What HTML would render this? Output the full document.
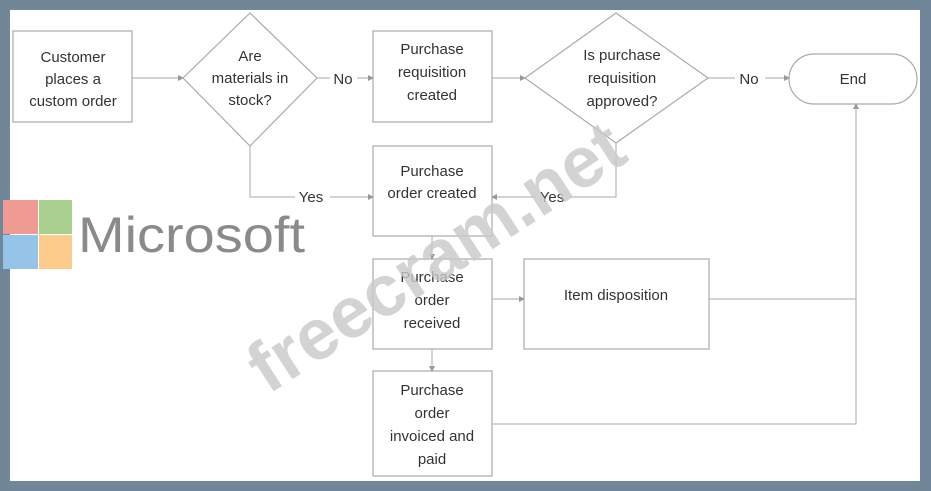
<!DOCTYPE html>
<html><head><style>
body{margin:0;width:931px;height:491px;background:#72869a;overflow:hidden;position:relative;font-family:"Liberation Sans",sans-serif}
#in{position:absolute;left:10px;top:10px;width:910px;height:471px;background:#fff}
</style></head><body>
<div id="in"></div>
<svg width="931" height="491" style="position:absolute;left:0;top:0" font-family="Liberation Sans, sans-serif" font-size="15" fill="#333">
<defs><marker id="a" markerWidth="6" markerHeight="6" refX="5" refY="3" orient="auto"><path d="M0,0L6,3L0,6z" fill="#999"/></marker></defs>
<g stroke="#aaa" stroke-width="1.2" fill="none">
<rect x="13" y="31" width="119" height="91" fill="#fff"/>
<polygon points="250,13 317,78 250,146 183,78" fill="#fff"/>
<rect x="373" y="31" width="119" height="91"/>
<polygon points="616,13 708,78 616,143 525,78"/>
<rect x="789" y="54" width="128" height="50" rx="25"/>
<rect x="373" y="146" width="119" height="90"/>
<rect x="373" y="259" width="119" height="90"/>
<rect x="524" y="259" width="185" height="90"/>
<rect x="373" y="371" width="119" height="105"/>
</g>
<g stroke="#aaa" stroke-width="1" fill="none">
<path d="M132,78H183" marker-end="url(#a)"/>
<path d="M317,78H330M357,78H373" marker-end="url(#a)"/>
<path d="M492,78H525" marker-end="url(#a)"/>
<path d="M708,78H735M765,78H789" marker-end="url(#a)"/>
<path d="M250,146V197H295M330,197H373" marker-end="url(#a)"/>
<path d="M616,143V197H570M535,197H492" marker-end="url(#a)"/>
<path d="M432,236V259" marker-end="url(#a)"/>
<path d="M432,349V371" marker-end="url(#a)"/>
<path d="M492,299H524" marker-end="url(#a)"/>
<path d="M709,299H856M492,424H856V104" marker-end="url(#a)"/>
</g>
<g text-anchor="middle">
<text x="73" y="62">Customer</text><text x="73" y="84">places a</text><text x="73" y="106">custom order</text>
<text x="250" y="61">Are</text><text x="250" y="83">materials in</text><text x="250" y="105">stock?</text>
<text x="343" y="84">No</text>
<text x="432" y="54">Purchase</text><text x="432" y="77">requisition</text><text x="432" y="100">created</text>
<text x="622" y="60">Is purchase</text><text x="622" y="83">requisition</text><text x="622" y="106">approved?</text>
<text x="749" y="84">No</text>
<text x="853" y="84">End</text>
<text x="311" y="202">Yes</text><text x="552" y="202">Yes</text>
<text x="432" y="176">Purchase</text><text x="432" y="198">order created</text>
<text x="432" y="282">Purchase</text><text x="432" y="305">order</text><text x="432" y="328">received</text>
<text x="616" y="300">Item disposition</text>
<text x="432" y="395">Purchase</text><text x="432" y="418">order</text><text x="432" y="441">invoiced and</text><text x="432" y="464">paid</text>
</g>
<rect x="3" y="200" width="35" height="34" fill="#ef9a92"/>
<rect x="39" y="200" width="33" height="34" fill="#a8cf8e"/>
<rect x="3" y="235" width="35" height="34" fill="#96c3e8"/>
<rect x="39" y="235" width="33" height="34" fill="#fdcb8c"/>
<text x="78" y="252" font-size="50" fill="#8a8a8a" textLength="227" lengthAdjust="spacingAndGlyphs">Microsoft</text>
<text x="0" y="0" font-size="72" font-weight="bold" fill="#c8c8c8" fill-opacity="0.8" transform="translate(268,395) rotate(-33)">freecram.net</text>
</svg>
</body></html>
